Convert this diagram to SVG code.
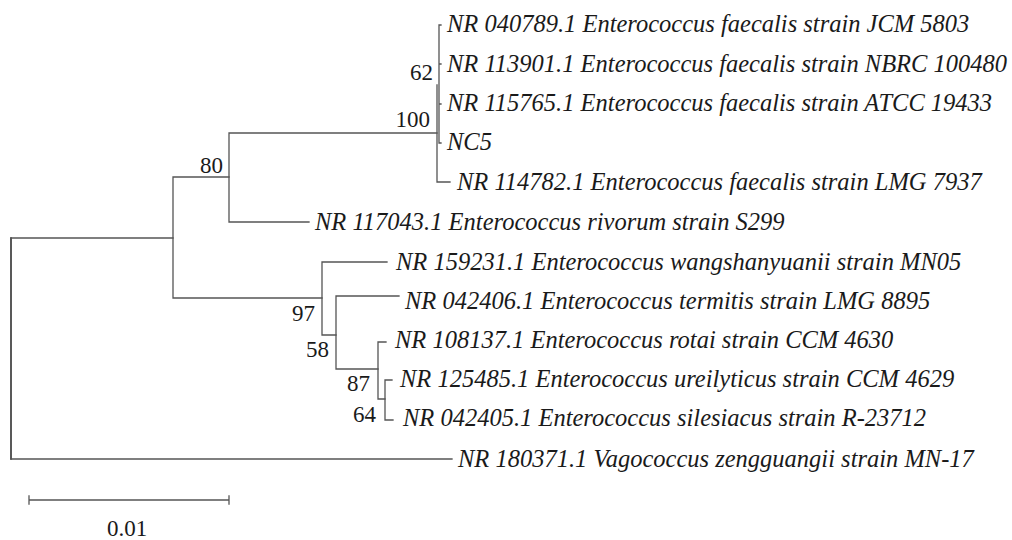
<svg xmlns="http://www.w3.org/2000/svg" width="1012" height="540" viewBox="0 0 1012 540">
<style>
.br{stroke:#555555;stroke-width:1.3;fill:none;stroke-linecap:square}
.rt{stroke:#222222;stroke-width:1.5;fill:none;stroke-linecap:square}
.tx{font-family:"Liberation Serif","Times New Roman",serif;font-style:italic;font-size:24.5px;fill:#1a1a1a}
.bs{font-family:"Liberation Serif","Times New Roman",serif;font-size:23px;fill:#1a1a1a;text-anchor:end}
.sc{font-family:"Liberation Serif","Times New Roman",serif;font-size:23px;fill:#1a1a1a;text-anchor:middle}
</style>
<rect width="1012" height="540" fill="#ffffff"/>
<g id="connectors">
<path class="rt" d="M11,238V459"/>
<path class="br" d="M11,238H173M11,459H452"/>
<path class="br" d="M173,177V298M173,177H229M173,298H322"/>
<path class="br" d="M229,133V222M229,133H437M229,222H309"/>
<path class="br" d="M437,85V182M437,182H450"/>
<path class="br" d="M439,25V143M439,25H441M439,64H441M439,104H441M439,143H441"/>
<path class="br" d="M322,262V335M322,262H387M322,335H336"/>
<path class="br" d="M336,296V369M336,296H399M336,369H378"/>
<path class="br" d="M378,342V399M378,342H386M378,399H385"/>
<path class="br" d="M385,380V420M385,380H392M385,420H393"/>
</g>
<g id="taxa">
<g id="t1"><text class="tx" x="447" y="32">NR 040789.1 Enterococcus faecalis strain JCM 5803</text></g>
<g id="t2"><text class="tx" x="447" y="72">NR 113901.1 Enterococcus faecalis strain NBRC 100480</text></g>
<g id="t3"><text class="tx" x="447" y="111">NR 115765.1 Enterococcus faecalis strain ATCC 19433</text></g>
<g id="t4"><text class="tx" x="447" y="150">NC5</text></g>
<g id="t5"><text class="tx" x="457" y="190">NR 114782.1 Enterococcus faecalis strain LMG 7937</text></g>
<g id="t6"><text class="tx" x="315" y="230">NR 117043.1 Enterococcus rivorum strain S299</text></g>
<g id="t7"><text class="tx" x="396" y="270">NR 159231.1 Enterococcus wangshanyuanii strain MN05</text></g>
<g id="t8"><text class="tx" x="405" y="309">NR 042406.1 Enterococcus termitis strain LMG 8895</text></g>
<g id="t9"><text class="tx" x="395" y="348">NR 108137.1 Enterococcus rotai strain CCM 4630</text></g>
<g id="t10"><text class="tx" x="400" y="387">NR 125485.1 Enterococcus ureilyticus strain CCM 4629</text></g>
<g id="t11"><text class="tx" x="403" y="426">NR 042405.1 Enterococcus silesiacus strain R-23712</text></g>
<g id="t12"><text class="tx" x="458" y="467">NR 180371.1 Vagococcus zengguangii strain MN-17</text></g>
</g>
<g id="bootstrap">
<text class="bs" x="223" y="173">80</text>
<text class="bs" x="433" y="80">62</text>
<text class="bs" x="430" y="127">100</text>
<text class="bs" x="315" y="321">97</text>
<text class="bs" x="329" y="357">58</text>
<text class="bs" x="370" y="391">87</text>
<text class="bs" x="376" y="422">64</text>
</g>
<g id="scalebar">
<path class="br" d="M29,500H229M29,496V504M229,496V504"/>
<text class="sc" x="127" y="536">0.01</text>
</g>
</svg>
